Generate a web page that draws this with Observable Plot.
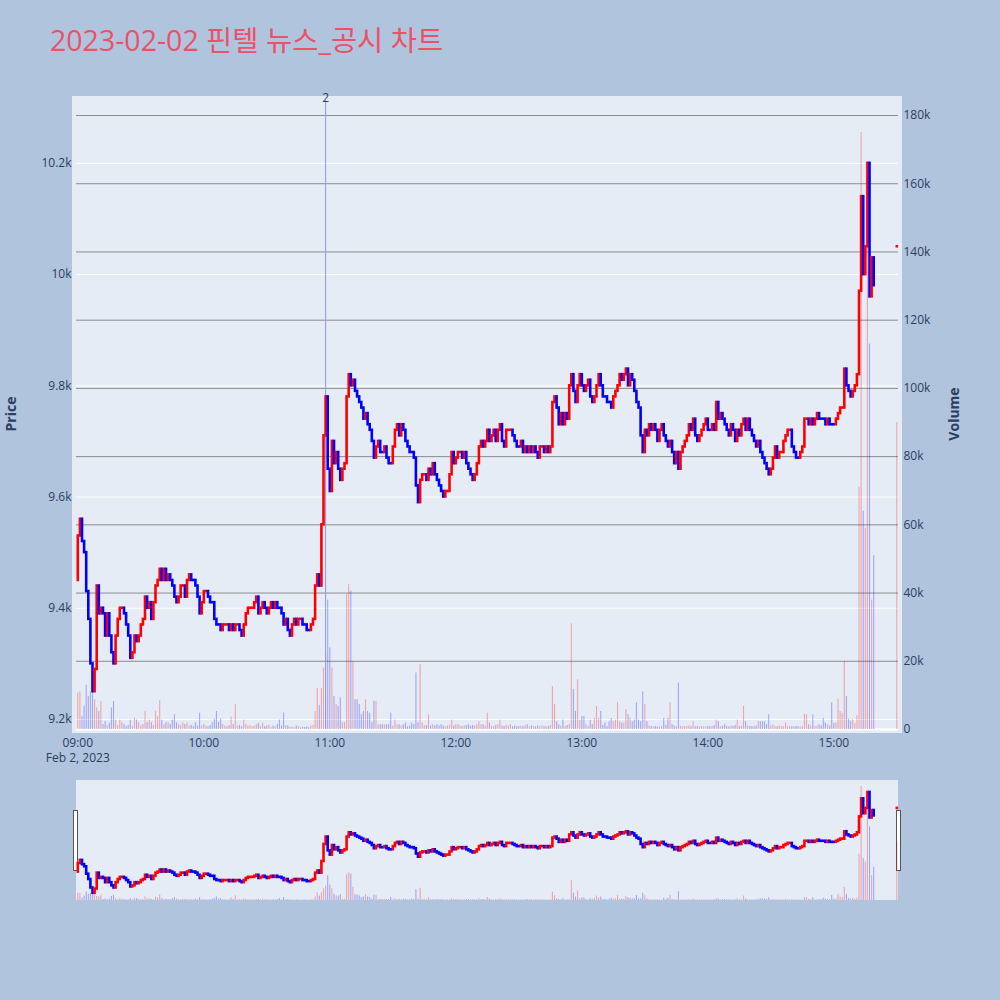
<!DOCTYPE html>
<html>
<head>
<meta charset="utf-8">
<script src="https://cdn.jsdelivr.net/npm/d3@7"></script>
<script src="https://cdn.jsdelivr.net/npm/@observablehq/plot@0.6"></script>
<style>
  body { margin: 0; background: #b0c4de; }
  #page { position: relative; width: 1000px; height: 1000px; overflow: hidden;
    font-family: "Open Sans", "Noto Sans CJK KR", sans-serif; color: #2a3f5f; }
  #title { position: absolute; left: 50px; top: 26px; font-size: 28.5px; line-height: 28px;
    color: #ec5168; white-space: nowrap; }
  #plotbg { position: absolute; left: 72px; top: 96px; width: 830px; height: 637px; background: #e5ecf6; }
  #sliderbg { position: absolute; left: 76px; top: 780px; width: 822px; height: 120px; background: #e5ecf6; }
  .axis-title { position: absolute; font-size: 14px; font-weight: bold; white-space: nowrap;
    transform: translate(-50%, -50%) rotate(-90deg); }
  .handle { position: absolute; top: 810px; width: 5px; height: 61px; box-sizing: border-box;
    background: #fff; border: 1px solid #555; }
  svg { position: absolute; left: 0; top: 0; }
</style>
</head>
<body>
<div id="page">
  <div id="title">2023-02-02 핀텔 뉴스_공시 차트</div>
  <div id="plotbg"></div>
  <div id="sliderbg"></div>
  <div class="axis-title" style="left:10px;top:414px">Price</div>
  <div class="axis-title" style="left:953px;top:414px">Volume</div>
  <div class="handle" style="left:73px"></div>
  <div class="handle" style="left:896px"></div>
</div>
<script>
(function() {
  "use strict";

  // one value per minute, 09:00 .. 15:19
  var tradeDate = "2023-02-02";
  var dateLabel = "Feb 2, 2023";
  var firstOpen = 9450;

  var closes09 = [9530, 9560, 9520, 9500, 9430, 9380, 9300, 9250, 9290, 9440,
    9390, 9400, 9390, 9350, 9390, 9350, 9320, 9300, 9350, 9380,
    9400, 9400, 9390, 9370, 9350, 9310, 9320, 9350, 9340, 9350,
    9370, 9380, 9420, 9400, 9410, 9380, 9410, 9440, 9450, 9470,
    9450, 9470, 9450, 9460, 9450, 9440, 9420, 9410, 9420, 9440,
    9440, 9420, 9450, 9460, 9450, 9450, 9440, 9420, 9390, 9410];
  var closes10 = [9430, 9430, 9420, 9410, 9410, 9380, 9370, 9370, 9360, 9370,
    9370, 9370, 9360, 9370, 9360, 9370, 9370, 9360, 9350, 9370,
    9390, 9400, 9400, 9400, 9410, 9420, 9390, 9400, 9410, 9400,
    9390, 9400, 9410, 9400, 9410, 9400, 9400, 9390, 9370, 9380,
    9360, 9350, 9370, 9380, 9370, 9380, 9380, 9370, 9370, 9360,
    9360, 9370, 9380, 9440, 9460, 9440, 9550, 9710, 9780, 9650];
  var closes11 = [9610, 9700, 9660, 9680, 9650, 9630, 9650, 9660, 9780, 9820,
    9800, 9810, 9790, 9780, 9770, 9760, 9740, 9750, 9730, 9720,
    9700, 9670, 9690, 9700, 9680, 9680, 9690, 9670, 9660, 9660,
    9690, 9720, 9730, 9710, 9730, 9720, 9700, 9690, 9680, 9680,
    9670, 9620, 9590, 9630, 9640, 9640, 9630, 9650, 9640, 9660,
    9640, 9630, 9620, 9610, 9600, 9610, 9610, 9640, 9680, 9660];
  var closes12 = [9670, 9680, 9680, 9670, 9680, 9660, 9650, 9640, 9630, 9640,
    9660, 9690, 9700, 9690, 9700, 9720, 9700, 9710, 9720, 9700,
    9720, 9730, 9700, 9690, 9720, 9720, 9720, 9710, 9700, 9690,
    9690, 9700, 9680, 9690, 9680, 9690, 9680, 9690, 9680, 9670,
    9690, 9690, 9680, 9690, 9680, 9690, 9770, 9780, 9760, 9730,
    9750, 9730, 9750, 9740, 9800, 9820, 9790, 9770, 9800, 9820];
  var closes13 = [9800, 9790, 9800, 9810, 9780, 9770, 9780, 9800, 9820, 9800,
    9780, 9780, 9770, 9770, 9760, 9780, 9790, 9800, 9820, 9810,
    9820, 9830, 9800, 9820, 9810, 9790, 9770, 9760, 9710, 9680,
    9720, 9710, 9730, 9720, 9730, 9720, 9700, 9720, 9730, 9710,
    9700, 9690, 9700, 9680, 9660, 9680, 9650, 9680, 9690, 9700,
    9710, 9730, 9720, 9740, 9710, 9700, 9710, 9720, 9730, 9740];
  var closes14 = [9720, 9720, 9730, 9720, 9770, 9740, 9750, 9740, 9730, 9720,
    9710, 9730, 9720, 9700, 9720, 9710, 9730, 9740, 9720, 9740,
    9720, 9710, 9700, 9690, 9700, 9680, 9670, 9660, 9650, 9640,
    9650, 9670, 9690, 9670, 9680, 9680, 9700, 9710, 9720, 9720,
    9690, 9680, 9670, 9670, 9680, 9690, 9740, 9740, 9730, 9740,
    9730, 9740, 9750, 9740, 9740, 9740, 9730, 9740, 9730, 9730];
  var closes15 = [9730, 9740, 9750, 9760, 9760, 9830, 9800, 9790, 9780, 9790,
    9800, 9820, 9970, 10140, 10000, 10050, 10200, 9960, 10030, 9980];

  var volumes09 = [10700, 11000, 3800, 6800, 13000, 9700, 11000, 13000, 8700, 6300,
    5300, 8200, 1500, 2400, 1200, 1800, 6300, 8200, 2800, 1200,
    2800, 2000, 1500, 900, 1200, 2800, 1000, 3300, 2800, 2000,
    1000, 1500, 5300, 2000, 2800, 2000, 1200, 5300, 3800, 8400,
    2800, 1500, 2000, 2000, 1500, 2800, 4300, 2000, 1500, 1200,
    2000, 1500, 2000, 1000, 1200, 800, 2000, 1000, 4800, 1000];
  var volumes10 = [1500, 1000, 800, 1200, 2000, 3000, 5300, 2000, 3000, 1500,
    1000, 800, 1200, 3700, 1500, 7300, 1000, 1200, 800, 2800,
    1500, 1000, 1200, 800, 1000, 1500, 1800, 1000, 1800, 800,
    1000, 1200, 600, 1000, 800, 1500, 2800, 1000, 4800, 1200,
    1000, 600, 800, 500, 1000, 800, 500, 700, 600, 800,
    500, 1000, 1200, 5300, 12000, 7000, 12000, 18000, 22000, 38000];
  var volumes11 = [24000, 18000, 9700, 7300, 6800, 9200, 2000, 2000, 39600, 42500,
    40600, 20000, 8700, 8700, 7300, 4300, 5300, 8700, 5300, 4800,
    2000, 8200, 8200, 1400, 1400, 1400, 1400, 1400, 1400, 4800,
    1000, 2800, 1400, 1400, 1000, 1400, 1900, 800, 1000, 1900,
    1500, 16600, 2000, 19000, 1900, 1000, 1200, 4300, 1000, 1400,
    1000, 1400, 1000, 1400, 1000, 800, 1000, 1200, 2800, 1000];
  var volumes12 = [1400, 1400, 1000, 800, 1000, 1200, 1400, 900, 1200, 1000,
    1400, 2300, 1400, 1400, 1000, 4800, 1900, 1000, 800, 1200,
    1400, 2800, 1000, 900, 1200, 1000, 1400, 800, 1000, 800,
    900, 1000, 800, 1200, 1400, 800, 1000, 900, 800, 1000,
    800, 1000, 800, 900, 900, 1200, 12600, 7300, 2300, 1400,
    1000, 2800, 900, 1200, 1500, 31000, 11700, 5300, 14600, 2800];
  var volumes13 = [3800, 3800, 1400, 900, 2800, 1500, 3300, 6800, 3300, 5300,
    1200, 1900, 900, 2300, 3300, 2300, 2800, 7800, 2300, 1900,
    1900, 5800, 4300, 3300, 2300, 2800, 7800, 2800, 2300, 11000,
    7300, 2300, 1000, 900, 800, 900, 700, 800, 900, 3300,
    1200, 3300, 7800, 1400, 1000, 900, 13600, 900, 800, 900,
    900, 1000, 800, 2300, 800, 900, 800, 900, 700, 800];
  var volumes14 = [900, 800, 900, 1200, 2800, 2300, 800, 1000, 1400, 900,
    800, 1000, 900, 1200, 2800, 900, 1000, 6800, 2300, 1000,
    900, 900, 800, 1000, 2300, 2300, 2300, 2300, 1400, 4300,
    1000, 1400, 900, 800, 1000, 900, 800, 1900, 800, 900,
    800, 700, 900, 800, 700, 900, 4500, 4300, 1400, 1000,
    4300, 900, 1000, 1400, 1000, 3300, 1900, 1400, 1000, 7800];
  var volumes15 = [1800, 1800, 8900, 5300, 4800, 20000, 9700, 3000, 2400, 3000,
    1800, 4000, 71000, 175000, 64000, 59000, 158000, 113000, 38000, 51000];

  // closing auction
  var auctionTime = "15:30";
  var auctionPrice = 10050;
  var auctionVolume = 90000;

  // news marker
  var newsTime = "10:58";
  var newsCount = "2";

  var hourTicks = ["09:00", "10:00", "11:00", "12:00", "13:00", "14:00", "15:00"];
  var priceTicks = [9200, 9400, 9600, 9800, 10000, 10200];
  var priceTickLabels = ["9.2k", "9.4k", "9.6k", "9.8k", "10k", "10.2k"];
  var volumeTicks = [0, 20000, 40000, 60000, 80000, 100000, 120000, 140000, 160000, 180000];
  var volumeTickLabels = ["0", "20k", "40k", "60k", "80k", "100k", "120k", "140k", "160k", "180k"];

  var UP = "#ff0000";
  var DOWN = "#0000ff";
  var UP_VOL = "rgba(255,0,0,0.3)";
  var DOWN_VOL = "rgba(0,0,255,0.3)";

  function at(hhmm) {
    return new Date(tradeDate + "T" + hhmm + ":00Z");
  }

  var xDomain = [new Date(tradeDate + "T08:59:23Z"), new Date(tradeDate + "T15:30:48Z")];
  var priceDomain = [9182, 10313];
  var volumeDomain = [0, 184400];

  var closes = [].concat(closes09, closes10, closes11, closes12, closes13, closes14, closes15);
  var volumes = [].concat(volumes09, volumes10, volumes11, volumes12, volumes13, volumes14, volumes15);
  var start = at("09:00");

  var candles = [];
  var prevUp = true;
  closes.forEach(function(c, i) {
    var o = i === 0 ? firstOpen : closes[i - 1];
    var up = c > o ? true : c < o ? false : prevUp;
    prevUp = up;
    candles.push({
      time: new Date(start.getTime() + i * 60000),
      open: o,
      close: c,
      volume: volumes[i],
      up: up
    });
  });
  var lastClose = closes[closes.length - 1];
  candles.push({
    time: at(auctionTime),
    open: auctionPrice,
    close: auctionPrice,
    volume: auctionVolume,
    up: auctionPrice > lastClose ? true : auctionPrice < lastClose ? false : prevUp
  });

  var page = document.getElementById("page");
  var baseStyle = {
    background: "transparent",
    fontFamily: "\"Open Sans\", \"Noto Sans CJK KR\", sans-serif",
    fontSize: "12px",
    color: "#2a3f5f",
    overflow: "visible"
  };

  function addLayer(top, height, margins, yDomain, marks) {
    var svg = Plot.plot({
      width: 1000,
      height: height,
      marginLeft: 76,
      marginRight: 102,
      marginTop: margins[0],
      marginBottom: margins[1],
      x: { type: "utc", domain: xDomain, axis: null },
      y: { domain: yDomain, axis: null },
      color: { type: "identity" },
      style: baseStyle,
      marks: marks
    });
    svg.style.top = top + "px";
    page.appendChild(svg);
    return svg;
  }

  function candleMark(width) {
    return Plot.ruleX(candles, {
      x: "time",
      y1: "open",
      y2: "close",
      stroke: function(d) { return d.up ? UP : DOWN; },
      strokeWidth: width,
      strokeLinecap: "square"
    });
  }

  function volumeMark() {
    return Plot.ruleX(candles, {
      x: "time",
      y1: 0,
      y2: "volume",
      stroke: function(d) { return d.up ? UP_VOL : DOWN_VOL; },
      strokeWidth: 1.1
    });
  }

  var mainMargins = [100, 51];

  // price grid
  addLayer(0, 780, mainMargins, priceDomain, [
    Plot.gridY(priceTicks, { stroke: "#ffffff", strokeOpacity: 1, strokeWidth: 1 })
  ]);

  // volume grid, bars and right axis
  addLayer(0, 780, mainMargins, volumeDomain, [
    Plot.gridY(volumeTicks.slice(1), { stroke: "#8c8c8c", strokeOpacity: 1, strokeWidth: 1 }),
    Plot.ruleY([0], { stroke: "#ffffff", strokeWidth: 2 }),
    volumeMark(),
    Plot.axisY(volumeTicks, {
      anchor: "right",
      tickSize: 0,
      tickPadding: 5,
      label: null,
      tickFormat: function(d) { return volumeTickLabels[volumeTicks.indexOf(d)]; }
    })
  ]);

  // candles, news line, left and bottom axes
  addLayer(0, 780, mainMargins, priceDomain, [
    Plot.ruleX([at(newsTime)], { stroke: "#8e9bd8", strokeWidth: 1 }),
    Plot.text([newsCount], {
      x: function() { return at(newsTime); },
      text: function(d) { return d; },
      frameAnchor: "top",
      lineAnchor: "bottom",
      dy: 1,
      fontSize: 12
    }),
    candleMark(2.6),
    Plot.axisY(priceTicks, {
      anchor: "left",
      tickSize: 0,
      tickPadding: 5,
      label: null,
      tickFormat: function(d) { return priceTickLabels[priceTicks.indexOf(d)]; }
    }),
    Plot.axisX(hourTicks.map(at), {
      anchor: "bottom",
      tickSize: 0,
      tickPadding: 7,
      label: null,
      lineHeight: 1.25,
      tickFormat: function(d) {
        var s = d3.utcFormat("%H:%M")(d);
        return s === hourTicks[0] ? s + "\n" + dateLabel : s;
      }
    })
  ]);

  // range slider
  addLayer(780, 120, [0, 0], volumeDomain, [volumeMark()]);
  addLayer(780, 120, [0, 0], priceDomain, [candleMark(2.6)]);
})();
</script>
</body>
</html>
